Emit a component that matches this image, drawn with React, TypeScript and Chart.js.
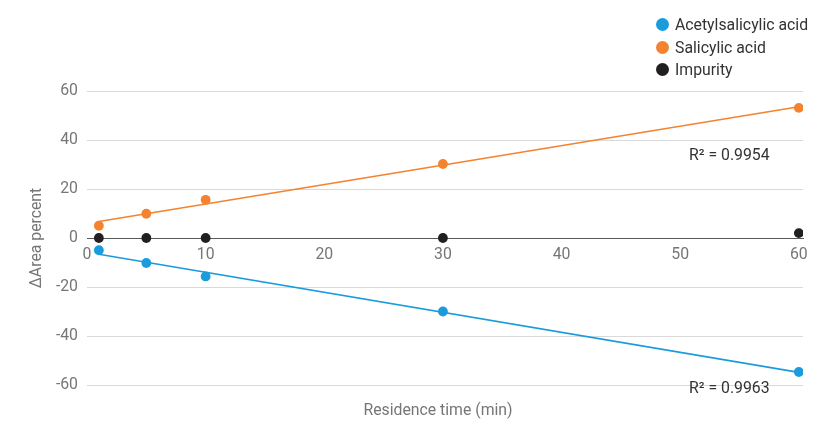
import React, { useEffect, useRef } from "react";
import { Chart, registerables } from "chart.js";

Chart.register(...registerables);

// ---- data ----
const residenceTimes = [1, 5, 10, 30, 60];
const acetylsalicylicAcid = [-5.0, -10.2, -15.7, -30.0, -54.7];
const salicylicAcid = [5.0, 9.9, 15.6, 30.2, 53.1];
const impurity = [0, 0, 0, 0, 2.0];
const seriesNames = ["Acetylsalicylic acid", "Salicylic acid", "Impurity"];
const seriesColors = ["#1A9CDC", "#F5822F", "#231F20"];
const xTickValues = [0, 10, 20, 30, 40, 50, 60];
const r2Salicylic = "R\u00B2 = 0.9954";
const r2Acetyl = "R\u00B2 = 0.9963";
const xTitle = "Residence time (min)";
const yTitle = "\u0394Area percent";

const FONT = "Roboto, 'Noto Sans', sans-serif";
const GRAY = "#767676";
const FS = 15.8;

function linearFit(xs: number[], ys: number[]) {
  const n = xs.length;
  const mx = xs.reduce((a, b) => a + b, 0) / n;
  const my = ys.reduce((a, b) => a + b, 0) / n;
  let sxy = 0;
  let sxx = 0;
  for (let i = 0; i < n; i++) {
    sxy += (xs[i] - mx) * (ys[i] - my);
    sxx += (xs[i] - mx) * (xs[i] - mx);
  }
  const b = sxy / sxx;
  const a = my - b * mx;
  const x0 = xs[0];
  const x1 = xs[n - 1];
  return [
    { x: x0, y: a + b * x0 },
    { x: x1, y: a + b * x1 },
  ];
}

function toPoints(ys: number[]) {
  return residenceTimes.map((x, i) => ({ x, y: ys[i] }));
}

export default function App() {
  const canvasRef = useRef<HTMLCanvasElement | null>(null);

  useEffect(() => {
    const canvas = canvasRef.current;
    if (!canvas) return;
    const pointDs = (label: string, ys: number[], color: string) => ({
      type: "scatter" as const,
      label,
      data: toPoints(ys),
      backgroundColor: color,
      borderColor: color,
      pointRadius: 4.9,
      pointHoverRadius: 4.9,
      borderWidth: 0,
      showLine: false,
      order: 0,
    });
    const lineDs = (ys: number[], color: string) => ({
      type: "line" as const,
      label: "trend",
      data: linearFit(residenceTimes, ys),
      borderColor: color,
      backgroundColor: color,
      borderWidth: 1.6,
      pointRadius: 0,
      fill: false,
      order: 1,
    });

    const chart = new Chart(canvas, {
      type: "scatter",
      data: {
        datasets: [
          pointDs(seriesNames[0], acetylsalicylicAcid, seriesColors[0]),
          pointDs(seriesNames[1], salicylicAcid, seriesColors[1]),
          pointDs(seriesNames[2], impurity, seriesColors[2]),
          lineDs(acetylsalicylicAcid, seriesColors[0]),
          lineDs(salicylicAcid, seriesColors[1]),
        ] as any,
      },
      options: {
        responsive: false,
        animation: false,
        layout: { padding: { left: 25, top: 91, right: 27, bottom: 48 } },
        plugins: {
          legend: { display: false },
          tooltip: { enabled: false },
        },
        scales: {
          x: {
            type: "linear",
            position: { y: 0 } as any,
            min: 0,
            max: 60.35,
            afterBuildTicks: (scale: any) => {
              scale.ticks = xTickValues.map((v) => ({ value: v }));
            },
            grid: { display: false, drawTicks: false },
            border: { display: true, color: "#5a5a5a", width: 1 },
            ticks: {
              padding: 8,
              color: GRAY,
              font: { family: FONT, size: FS },
              maxRotation: 0,
            },
          },
          y: {
            type: "linear",
            position: "left",
            min: -60,
            max: 60,
            afterFit: (scale: any) => {
              scale.width = 62;
            },
            ticks: {
              stepSize: 20,
              padding: 9,
              color: GRAY,
              font: { family: FONT, size: FS },
            },
            grid: { color: "#d9d9d9", lineWidth: 1, drawTicks: false },
            border: { display: false },
            title: {
              display: true,
              text: yTitle,
              color: GRAY,
              font: { family: FONT, size: FS },
              padding: { top: 3, bottom: 4 },
            },
          },
        },
      },
    });
    return () => chart.destroy();
  }, []);

  const legendRow = (name: string, color: string, top: number) => (
    <div
      key={name}
      style={{
        position: "absolute",
        left: 656,
        top,
        height: 20,
        display: "flex",
        alignItems: "center",
        whiteSpace: "nowrap",
      }}
    >
      <span
        style={{
          display: "inline-block",
          width: 13,
          height: 13,
          borderRadius: "50%",
          background: color,
          marginRight: 6,
        }}
      />
      <span style={{ fontFamily: FONT, fontSize: FS, color: "#333" }}>{name}</span>
    </div>
  );

  const textStyle: React.CSSProperties = {
    position: "absolute",
    fontFamily: FONT,
    fontSize: FS,
    whiteSpace: "nowrap",
    lineHeight: "18px",
  };

  return (
    <div style={{ position: "absolute", left: 0, top: 0, width: 830, height: 433, background: "#fff" }}>
      <canvas ref={canvasRef} width={830} height={433} style={{ position: "absolute", left: 0, top: 0 }} />
      {legendRow(seriesNames[0], seriesColors[0], 14)}
      {legendRow(seriesNames[1], seriesColors[1], 37)}
      {legendRow(seriesNames[2], seriesColors[2], 59)}
      <div style={{ ...textStyle, left: 689, top: 146, color: "#333" }}>{r2Salicylic}</div>
      <div style={{ ...textStyle, left: 689, top: 379, color: "#333" }}>{r2Acetyl}</div>
      <div
        style={{
          ...textStyle,
          left: 438,
          top: 401,
          transform: "translateX(-50%)",
          color: GRAY,
        }}
      >
        {xTitle}
      </div>
    </div>
  );
}
